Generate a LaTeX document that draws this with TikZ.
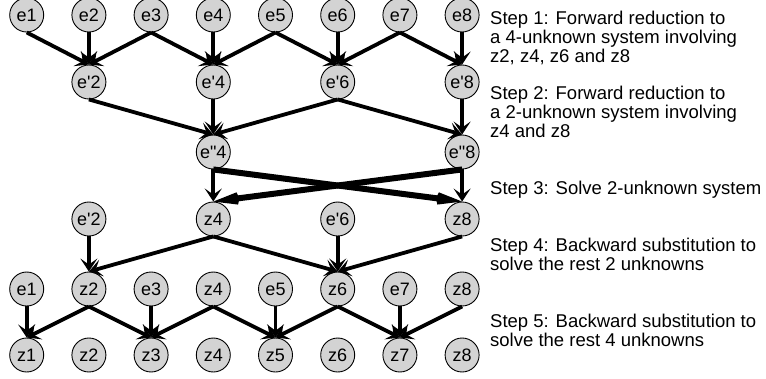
\documentclass[tikz,border=0pt]{standalone}
\usepackage{fontspec}
\setmainfont{Liberation Sans}[Ligatures=TeXOff]
\usetikzlibrary{arrows.meta}
\definecolor{nodegray}{RGB}{211,211,211}
\begin{document}
\begin{tikzpicture}[x=1pt,y=-1pt,
  var/.style={circle,draw=black,line width=0.9pt,fill=nodegray,minimum size=34pt,inner sep=0pt,font=\fontsize{18}{18}\selectfont},
  arr/.style={line width=3.8pt,-{Stealth[length=13pt,width=17pt,inset=6pt]}},
  bigarr/.style={line width=6pt,-{Stealth[length=55pt,width=28pt,inset=30pt]}},
  steptext/.style={anchor=base west,align=left,inner sep=0pt,font=\fontsize{18.5}{19}\selectfont}]
\useasboundingbox (0,0) rectangle (766,378);
% columns
\def\cA{26.7}\def\cB{88.9}\def\cC{151.1}\def\cD{213.3}
\def\cE{275.5}\def\cF{337.7}\def\cG{399.9}\def\cH{462.1}
% row 1
\node[var] (e1) at (\cA,15) {e1};
\node[var] (e2) at (\cB,15) {e2};
\node[var] (e3) at (\cC,15) {e3};
\node[var] (e4) at (\cD,15) {e4};
\node[var] (e5) at (\cE,15) {e5};
\node[var] (e6) at (\cF,15) {e6};
\node[var] (e7) at (\cG,15) {e7};
\node[var] (e8) at (\cH,15) {e8};
% row 2
\node[var] (ep2) at (\cB,82) {e'2};
\node[var] (ep4) at (\cD,82) {e'4};
\node[var] (ep6) at (\cF,82) {e'6};
\node[var] (ep8) at (\cH,82) {e'8};
% row 3
\node[var] (epp4) at (\cD,152) {e"4};
\node[var] (epp8) at (\cH,152) {e"8};
% row 4
\node[var] (qep2) at (\cB,219) {e'2};
\node[var] (qz4) at (\cD,219) {z4};
\node[var] (qep6) at (\cF,219) {e'6};
\node[var] (qz8) at (\cH,219) {z8};
% row 5
\node[var] (re1) at (\cA,289) {e1};
\node[var] (rz2) at (\cB,289) {z2};
\node[var] (re3) at (\cC,289) {e3};
\node[var] (rz4) at (\cD,289) {z4};
\node[var] (re5) at (\cE,289) {e5};
\node[var] (rz6) at (\cF,289) {z6};
\node[var] (re7) at (\cG,289) {e7};
\node[var] (rz8) at (\cH,289) {z8};
% row 6
\node[var] (z1) at (\cA,355) {z1};
\node[var] (z2) at (\cB,355) {z2};
\node[var] (z3) at (\cC,355) {z3};
\node[var] (z4) at (\cD,355) {z4};
\node[var] (z5) at (\cE,355) {z5};
\node[var] (z6) at (\cF,355) {z6};
\node[var] (z7) at (\cG,355) {z7};
\node[var] (z8) at (\cH,355) {z8};
% step 1
\foreach \a/\b in {e1/ep2,e2/ep2,e3/ep2,e3/ep4,e4/ep4,e5/ep4,e5/ep6,e6/ep6,e7/ep6,e7/ep8,e8/ep8}
  \draw[arr] (\a.south) -- (\b.north);
% step 2
\foreach \a/\b in {ep2/epp4,ep4/epp4,ep6/epp4,ep6/epp8,ep8/epp8}
  \draw[arr] (\a.south) -- (\b.north);
% step 3
\draw[arr] (epp4.south) -- (qz4.north);
\draw[arr] (epp8.south) -- (qz8.north);
\draw[bigarr] (epp4.south) -- (qz8.north);
\draw[bigarr] (epp8.south) -- (qz4.north);
% step 4
\foreach \a/\b in {qep2/rz2,qz4/rz2,qz4/rz6,qep6/rz6,qz8/rz6}
  \draw[arr] (\a.south) -- (\b.north);
% step 5
\foreach \a/\b in {re1/z1,rz2/z1,rz2/z3,re3/z3,rz4/z3,rz4/z5,re5/z5,rz6/z5,rz6/z7,re7/z7,rz8/z7}
  \draw[arr] (\a.south) -- (\b.north);
% texts (base = baseline of last line)
\node[steptext] (s1) at (490,62.5) {Step 1: Forward reduction to\\a 4-unknown system involving\\z2, z4, z6 and z8};
\node[steptext] (s2) at (490,137.5) {Step 2: Forward reduction to\\a 2-unknown system involving\\z4 and z8};
\node[steptext] (s3) at (490,194.5) {Step 3: Solve 2-unknown system};
\node[steptext] (s4) at (490,270.5) {Step 4: Backward substitution to\\solve the rest 2 unknowns};
\node[steptext] (s5) at (490,346.5) {Step 5: Backward substitution to\\solve the rest 4 unknowns};
\end{tikzpicture}
\end{document}
